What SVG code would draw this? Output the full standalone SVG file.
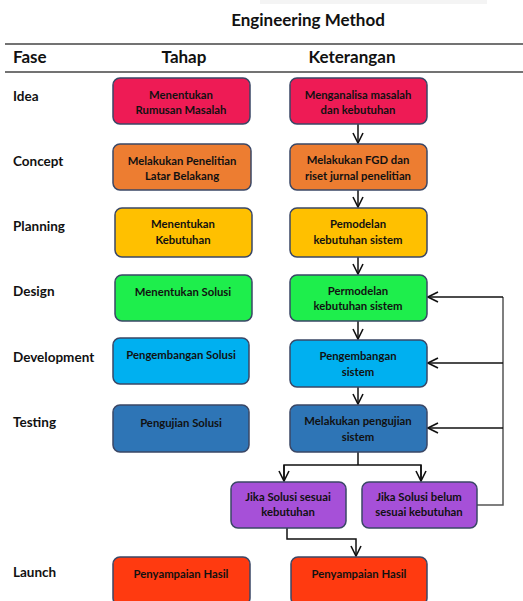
<svg xmlns="http://www.w3.org/2000/svg" width="523" height="601" viewBox="0 0 523 601">
<style>
.t{font-family:Lato,"Liberation Sans",sans-serif;font-weight:bold;fill:#111;}
.bx{font-size:11.3px;text-anchor:middle;}
.fase{font-size:13.5px;}
.hd{font-size:17px;}
.n{stroke:#3a4766;stroke-width:1.5;}
.c{fill:none;stroke:#111;stroke-width:1.5;}
.fb{fill:none;stroke:#555;stroke-width:1.5;}
</style>
<defs>
<marker id="ah" viewBox="0 0 12 12" refX="11" refY="6" markerWidth="12" markerHeight="12" markerUnits="userSpaceOnUse" orient="auto">
<path d="M1,1 L11,6 L1,11" fill="none" stroke="#111" stroke-width="1.6"/>
</marker>
</defs>
<rect x="0" y="0" width="523" height="601" fill="#fff"/>
<rect x="260" y="0" width="227" height="4" fill="#f4f4f4"/>
<text class="t hd" x="308" y="26" text-anchor="middle">Engineering Method</text>
<line x1="5" y1="44" x2="523" y2="44" stroke="#444" stroke-width="1.5"/>
<line x1="5" y1="72" x2="523" y2="72" stroke="#444" stroke-width="1.5"/>
<text class="t hd" x="13" y="63">Fase</text>
<text class="t hd" x="184" y="63" text-anchor="middle">Tahap</text>
<text class="t hd" x="352" y="63" text-anchor="middle">Keterangan</text>

<g id="fase-labels">
<text class="t fase" x="13" y="101">Idea</text>
<text class="t fase" x="13" y="166">Concept</text>
<text class="t fase" x="13" y="231">Planning</text>
<text class="t fase" x="13" y="296">Design</text>
<text class="t fase" x="13" y="362">Development</text>
<text class="t fase" x="13" y="427">Testing</text>
<text class="t fase" x="13" y="577">Launch</text>
</g>

<g id="connectors">
<line class="c" x1="358" y1="124" x2="358" y2="143" marker-end="url(#ah)"/>
<line class="c" x1="358" y1="190" x2="358" y2="207" marker-end="url(#ah)"/>
<line class="c" x1="358" y1="257" x2="358" y2="274" marker-end="url(#ah)"/>
<line class="c" x1="358" y1="321" x2="358" y2="339" marker-end="url(#ah)"/>
<line class="c" x1="358" y1="387" x2="358" y2="404" marker-end="url(#ah)"/>
<polyline class="c" points="358,452 358,465"/>
<polyline class="c" points="284,481 284,465 421,465 421,481" />
<line class="c" x1="284" y1="465" x2="284" y2="481" marker-end="url(#ah)"/>
<line class="c" x1="421" y1="465" x2="421" y2="481" marker-end="url(#ah)"/>
<polyline class="c" points="287,528 287,539 356,539 356,556" marker-end="url(#ah)"/>
<polyline class="fb" points="477,505 503,505 503,297"/>
<line class="c" x1="503" y1="297" x2="428" y2="297" marker-end="url(#ah)"/>
<line class="c" x1="503" y1="363" x2="428" y2="363" marker-end="url(#ah)"/>
<line class="c" x1="503" y1="428" x2="428" y2="428" marker-end="url(#ah)"/>
</g>

<g id="tahap-idea"><rect class="n" x="113" y="78" width="137" height="46" rx="7" fill="#EE1B55"/>
<text class="t bx" x="181" y="99">Menentukan</text><text class="t bx" x="181" y="114">Rumusan Masalah</text></g>
<g id="ket-idea"><rect class="n" x="290" y="78" width="137" height="46" rx="7" fill="#EE1B55"/>
<text class="t bx" x="358" y="99">Menganalisa masalah</text><text class="t bx" x="358" y="114">dan kebutuhan</text></g>

<g id="tahap-concept"><rect class="n" x="113" y="144" width="138" height="46" rx="7" fill="#ED7D31"/>
<text class="t bx" x="182" y="165">Melakukan Penelitian</text><text class="t bx" x="182" y="180">Latar Belakang</text></g>
<g id="ket-concept"><rect class="n" x="290" y="144" width="137" height="46" rx="7" fill="#ED7D31"/>
<text class="t bx" x="358" y="164">Melakukan FGD dan</text><text class="t bx" x="358" y="180">riset jurnal penelitian</text></g>

<g id="tahap-planning"><rect class="n" x="115" y="208" width="137" height="49" rx="7" fill="#FFC000"/>
<text class="t bx" x="183" y="228">Menentukan</text><text class="t bx" x="183" y="244">Kebutuhan</text></g>
<g id="ket-planning"><rect class="n" x="290" y="208" width="137" height="49" rx="7" fill="#FFC000"/>
<text class="t bx" x="358" y="228">Pemodelan</text><text class="t bx" x="358" y="244">kebutuhan sistem</text></g>

<g id="tahap-design"><rect class="n" x="115" y="275" width="137" height="46" rx="7" fill="#1EEE4C"/>
<text class="t bx" x="183" y="296">Menentukan Solusi</text></g>
<g id="ket-design"><rect class="n" x="290" y="275" width="137" height="46" rx="7" fill="#1EEE4C"/>
<text class="t bx" x="358" y="295">Permodelan</text><text class="t bx" x="358" y="310">kebutuhan sistem</text></g>

<g id="tahap-development"><rect class="n" x="113" y="338" width="136" height="46" rx="7" fill="#00B0F0"/>
<text class="t bx" x="181" y="359">Pengembangan Solusi</text></g>
<g id="ket-development"><rect class="n" x="290" y="340" width="137" height="47" rx="7" fill="#00B0F0"/>
<text class="t bx" x="358" y="360">Pengembangan</text><text class="t bx" x="358" y="376">sistem</text></g>

<g id="tahap-testing"><rect class="n" x="113" y="405" width="136" height="47" rx="7" fill="#2E75B6"/>
<text class="t bx" x="181" y="427">Pengujian Solusi</text></g>
<g id="ket-testing"><rect class="n" x="290" y="405" width="137" height="47" rx="7" fill="#2E75B6"/>
<text class="t bx" x="358" y="425">Melakukan pengujian</text><text class="t bx" x="358" y="441">sistem</text></g>

<g id="sesuai"><rect class="n" x="231" y="482" width="115" height="46" rx="7" fill="#A650D8"/>
<text class="t bx" x="288" y="501">Jika Solusi sesuai</text><text class="t bx" x="288" y="516">kebutuhan</text></g>
<g id="belum-sesuai"><rect class="n" x="362" y="482" width="115" height="46" rx="7" fill="#A650D8"/>
<text class="t bx" x="419" y="501">Jika Solusi belum</text><text class="t bx" x="419" y="516">sesuai kebutuhan</text></g>

<g id="tahap-launch"><rect class="n" x="113" y="557" width="137" height="48" rx="7" fill="#FF3A10"/>
<text class="t bx" x="181" y="578">Penyampaian Hasil</text></g>
<g id="ket-launch"><rect class="n" x="291" y="557" width="136" height="48" rx="7" fill="#FF3A10"/>
<text class="t bx" x="359" y="578">Penyampaian Hasil</text></g>
</svg>
